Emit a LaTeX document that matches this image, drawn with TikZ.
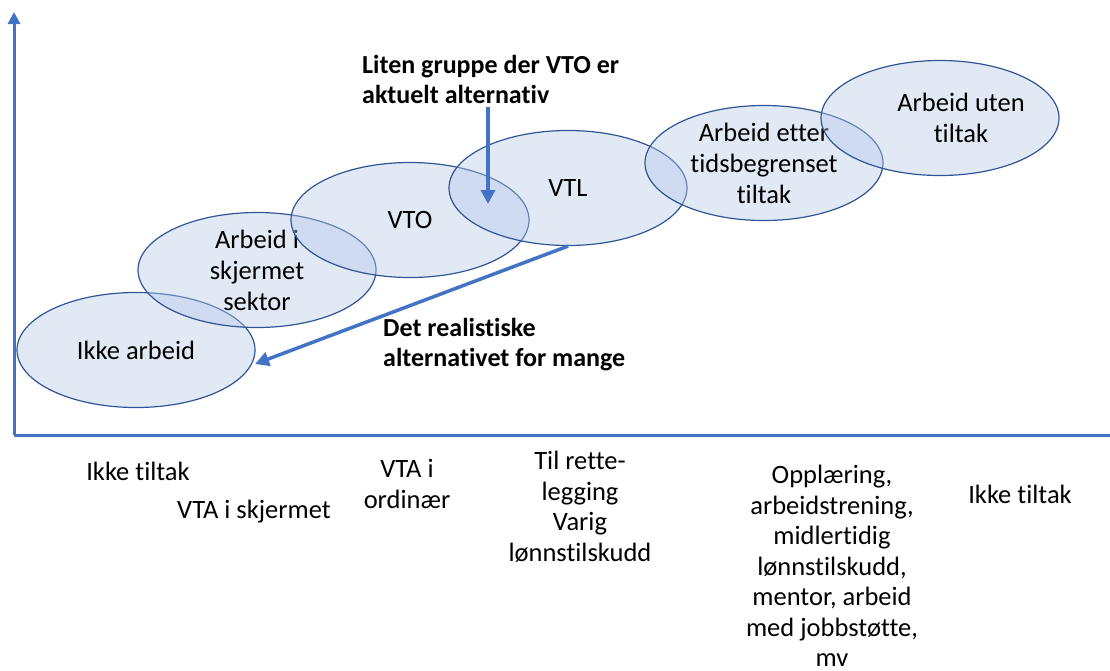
\documentclass[tikz,border=0pt]{standalone}
\usepackage{fontspec}
\setmainfont[Ligatures=NoCommon]{Carlito}
\usetikzlibrary{shapes.geometric,arrows.meta}
\definecolor{axisblue}{RGB}{68,114,196}
\definecolor{ellfill}{RGB}{180,199,231}
\definecolor{elldraw}{RGB}{47,85,151}
\tikzset{
  ell/.style={ellipse, draw=elldraw, line width=1.2pt, fill=ellfill, fill opacity=0.4, text opacity=1,
    minimum width=238pt, minimum height=115pt, inner sep=0pt, align=center,
    font=\fontsize{26.5}{31}\selectfont},
  txt/.style={align=center, inner sep=0pt, font=\fontsize{26.5}{30.5}\selectfont},
  boldtxt/.style={align=left, inner sep=0pt, font=\fontsize{26}{30}\selectfont\bfseries},
  axisline/.style={draw=axisblue, line width=3pt},
  bluearrow/.style={draw=axisblue, line width=3.5pt, -{Triangle[length=14pt,width=14pt]}}
}
\begin{document}
\begin{tikzpicture}[x=1pt,y=-1pt]
\useasboundingbox (0,0) rectangle (1110,670);
% axes
\coordinate (o) at (14,435);
\coordinate (ytop) at (14,12);
\coordinate (xend) at (1110,435);
\draw[axisline, -{Triangle[length=12pt,width=12pt]}] (o) -- (ytop);
\draw[axisline] (o) -- (xend);
% ellipses
\node[ell] (e1) at (136,350) {Ikke arbeid};
\node[ell] (e2) at (257,270) {Arbeid i\\skjermet\\sektor};
\node[ell] (e3) at (410,220) {VTO};
\node[ell] (e4) at (568,188) {VTL};
\node[ell] (e5) at (764,163) {Arbeid etter\\tidsbegrenset\\tiltak};
\node[ell] (e6) at (940,118) {};
\node[txt] (t6) at (961,118) {Arbeid uten\\tiltak};
% bold labels
\node[boldtxt, anchor=north west] (lab1) at (362,55) {Liten gruppe der VTO er\\aktuelt alternativ};
\node[boldtxt, anchor=north west] (lab2) at (383,318) {Det realistiske\\alternativet for mange};
% arrows
\coordinate (a1s) at (488,107);
\coordinate (a1e) at (488,204);
\draw[bluearrow] (a1s) -- (a1e);
\coordinate (a2e) at (255,364);
\draw[bluearrow] (e4.south) -- (a2e);
% bottom labels
\node[txt] (b1) at (138,471) {Ikke tiltak};
\node[txt] (b2) at (254,512) {VTA i skjermet};
\node[txt] (b3) at (407,484) {VTA i\\ordinær};
\node[txt] (b4) at (580,507) {Til rette-\\legging\\Varig\\lønnstilskudd};
\node[txt] (b5) at (832,566) {Opplæring,\\arbeidstrening,\\midlertidig\\lønnstilskudd,\\mentor, arbeid\\med jobbstøtte,\\mv};
\node[txt] (b6) at (1020,494) {Ikke tiltak};
\end{tikzpicture}
\end{document}
